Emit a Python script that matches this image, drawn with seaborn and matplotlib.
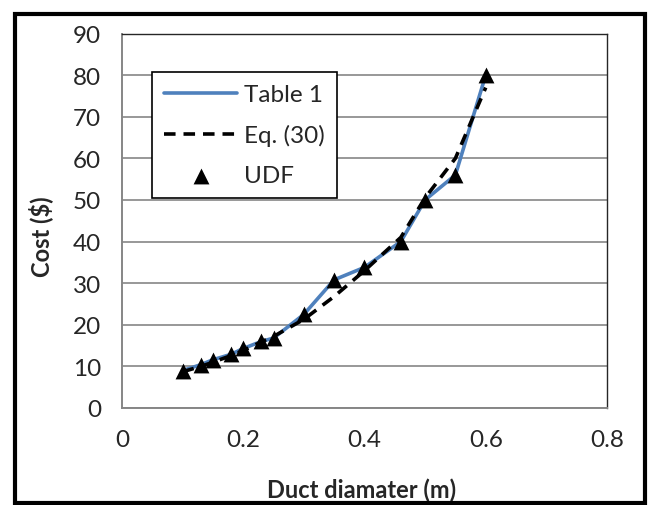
import matplotlib
matplotlib.use("Agg")
import matplotlib.pyplot as plt
import seaborn as sns
from matplotlib.patches import Rectangle

# diametros (m) y costos
diam = [0.1, 0.13, 0.15, 0.18, 0.2, 0.23, 0.25, 0.3, 0.35, 0.4, 0.46, 0.5, 0.55, 0.6]
cost_table = [9.0, 10.4, 11.6, 12.9, 14.3, 16.0, 16.8, 22.5, 30.8, 33.8, 40.0, 50.0, 56.0, 80.0]
cost_eq = [8.7, 10.0, 11.0, 12.6, 13.8, 15.9, 17.2, 21.3, 26.8, 33.0, 41.0, 50.5, 60.0, 77.0]
cost_udf = [9.0, 10.4, 11.6, 12.9, 14.3, 16.0, 16.8, 22.5, 30.8, 33.8, 40.0, 50.0, 56.0, 80.0]

xticks = [0, 0.2, 0.4, 0.6, 0.8]
yticks = list(range(0, 100, 10))

sns.set_style("white")
plt.rcParams['font.family'] = ['Lato', 'DejaVu Sans']

fig = plt.figure(figsize=(6.52, 5.06), dpi=100)
ax = fig.add_axes([0.1871, 0.1917, 0.7438, 0.7401])

sns.lineplot(x=diam, y=cost_table, ax=ax, color='#4F81BD', lw=2.6, label='Table 1')
sns.lineplot(x=diam, y=cost_eq, ax=ax, color='black', lw=2.6, label='Eq. (30)',
             dashes=False, linestyle=(0, (3.2, 2.2)))
sns.scatterplot(x=diam, y=cost_udf, ax=ax, color='black', marker='^', s=130,
                edgecolor='black', linewidth=0, label='UDF', zorder=5)

ax.set_xlim(0, 0.8)
ax.set_ylim(0, 90)
ax.set_xticks(xticks)
ax.set_xticklabels(['0', '0.2', '0.4', '0.6', '0.8'])
ax.set_yticks(yticks)
ax.tick_params(axis='both', labelsize=17.5, direction='out', length=6, width=1.2,
               color='#868686', pad=9)
ax.yaxis.grid(True, color='#868686', lw=1.2)
ax.xaxis.grid(False)
ax.set_axisbelow(True)

for s in ['left', 'bottom']:
    ax.spines[s].set_color('#868686')
    ax.spines[s].set_linewidth(1.4)
for s in ['top', 'right']:
    ax.spines[s].set_color('#262626')
    ax.spines[s].set_linewidth(1.0)

ax.set_xlabel('Duct diamater (m)', fontsize=17, fontweight='bold')
ax.set_ylabel('Cost ($)', fontsize=17, fontweight='bold')
ax.xaxis.set_label_coords(0.495, -0.185)
ax.yaxis.set_label_coords(-0.142, 0.46)

leg = ax.legend(loc='upper left', bbox_to_anchor=(0.062, 0.897), fontsize=17.5,
                frameon=True, fancybox=False, edgecolor='black', framealpha=1,
                handlelength=3.0, handletextpad=0.3, labelspacing=0.78,
                borderpad=0.5, borderaxespad=0)
leg.get_frame().set_linewidth(1.2)

# borde exterior de la figura
fig.patches.append(Rectangle((15 / 652, 2 / 506), 630 / 652, 489 / 506,
                             transform=fig.transFigure, fill=False,
                             edgecolor='black', lw=3.0))

fig.savefig('out.png', dpi=100)
